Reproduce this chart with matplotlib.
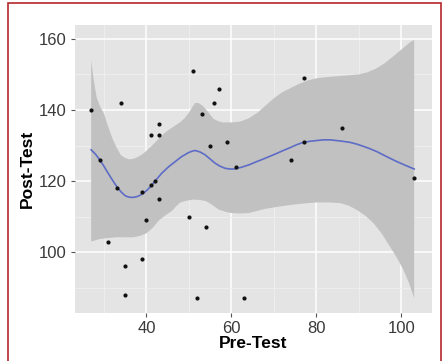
import numpy as np
import matplotlib
matplotlib.use("Agg")
from matplotlib import pyplot as plt
from matplotlib.patches import Rectangle

# scatter data
pre = [27, 29, 31, 33, 34, 35, 35, 39, 39, 40, 41, 41, 42, 43, 43, 43,
       50, 51, 52, 53, 54, 55, 56, 57, 59, 61, 63, 74, 77, 77, 86, 103]
post = [140, 126, 103, 118, 142, 96, 88, 98, 117, 109, 133, 119, 120, 136, 133, 115,
        110, 151, 87, 139, 107, 130, 142, 146, 131, 124, 87, 126, 149, 131, 135, 121]

# smoother line and band edges
fit_x = [27, 28, 29, 30, 31, 32, 33, 34, 35, 35.8, 36.8, 37.7, 38.5, 39.3, 40.3, 41.3, 42.4,
         43.6, 45.2, 46.8, 48.3, 49.9, 50.7, 51.5, 52.6, 53.8, 55, 56.2, 57.3, 58.5, 59.6,
         60.7, 62.4, 64.2, 65.8, 67.5, 69.1, 70.7, 72.2, 73.8, 75.3, 76.9, 78.5, 80, 81.6,
         83.2, 85.5, 87.9, 89.5, 91, 92.6, 94.2, 96.5, 98.9, 101, 103]
fit_y = [128.8, 127.6, 126.0, 124.2, 122.2, 120.3, 118.5, 117.0, 115.9, 115.5, 115.4, 115.6,
         116.0, 116.6, 117.6, 118.9, 120.5, 122.2, 124.0, 125.5, 126.9, 128.0, 128.4, 128.6,
         128.2, 127.4, 126.2, 125.0, 124.2, 123.6, 123.4, 123.4, 123.9, 124.6, 125.4, 126.2,
         127.0, 127.8, 128.6, 129.4, 130.2, 130.9, 131.2, 131.4, 131.6, 131.6, 131.3, 130.9,
         130.4, 129.8, 129.1, 128.3, 126.9, 125.5, 124.4, 123.4]

upper_x = [27, 27.6, 28.3, 29.1, 30, 31, 32, 33, 34, 35, 36, 37, 38, 39, 40, 41, 42, 43, 44,
           45, 46, 47, 48, 49, 50, 50.8, 51.5, 52.4, 53.4, 54.6, 55.8, 57, 58, 60, 62, 64, 66,
           68, 70, 72, 74, 76, 78, 80, 82, 84, 86, 88, 90, 92, 94, 96, 98, 99.5, 101, 102, 103]
upper_y = [154.1, 148.5, 143.5, 141.0, 139, 135.3, 132, 129.4, 127.3, 126.5, 126.1, 126.3,
           126.8, 127.5, 128.5, 129.6, 130.8, 132.0, 133.2, 134.2, 135, 135.8, 136.6, 137.7,
           139.2, 140.8, 142, 141.9, 141, 139.3, 137.5, 136.8, 136.5, 136.5, 136.7, 137.6,
           139.1, 141.2, 143.3, 145.0, 146.2, 147.4, 148.3, 148.9, 149.2, 149.4, 149.6, 149.8,
           150.0, 150.6, 151.6, 153.1, 155.0, 156.5, 158.0, 159.0, 159.7]

lower_x = [27, 29, 31, 33, 35, 37, 38.5, 40, 41.5, 43, 44.5, 46, 47, 48, 49.5, 51, 52.5, 54,
           55.5, 57, 58.5, 60, 62, 64, 66, 68, 71, 74, 77, 80, 83, 85.6, 87.6, 89.5, 91.5,
           93.4, 95.4, 97.3, 99, 100.5, 101.8, 103]
lower_y = [103.0, 103.7, 104.0, 104.2, 104.2, 104.2, 104.6, 105.3, 106.9, 109.0, 110.4, 111.6,
           112.9, 114.0, 114.5, 114.8, 114.7, 114.4, 113.3, 112.0, 111.4, 111.0, 110.9, 111.0,
           111.6, 112.2, 112.8, 113.3, 113.7, 114.0, 114.0, 113.8, 113.1, 111.9, 110.3, 108.2,
           105.2, 101.6, 98.3, 95.0, 91.3, 87.1]

x_ticks = [40, 60, 80, 100]
y_ticks = [100, 120, 140, 160]

plt.rcParams['font.family'] = ['Liberation Sans', 'DejaVu Sans']

fig = plt.figure(figsize=(4.43, 3.61), dpi=100)
ax = fig.add_axes([75/443, 1-313/361, 357/443, 288/361])
ax.set_facecolor('#E4E4E4')

ax.set_xlim(23.2, 107.2)
ax.set_ylim(82.9, 163.9)

# grid like ggplot
ax.set_xticks(x_ticks)
ax.set_yticks(y_ticks)
ax.set_xticks([30, 50, 70, 90], minor=True)
ax.set_yticks([90, 110, 130, 150], minor=True)
ax.grid(which='major', color='white', linewidth=1.1)
ax.grid(which='minor', color='#EFEFEF', linewidth=0.6)
ax.set_axisbelow(True)
for s in ax.spines.values():
    s.set_visible(False)

ax.tick_params(which='major', length=3, width=0.8, color='#555555',
               labelsize=12, labelcolor='#3A3A3A', pad=3)
ax.tick_params(which='minor', length=0)

# confidence band
ax.fill(np.concatenate([upper_x, lower_x[::-1]]),
        np.concatenate([upper_y, lower_y[::-1]]),
        color='#C2C1C1', linewidth=0, zorder=1)
ax.plot(fit_x, fit_y, color='#5D6CC6', linewidth=1.2, zorder=2)
ax.scatter(pre, post, s=9, color='#111111', zorder=3, linewidths=0)

ax.set_xlabel('Pre-Test', fontsize=12.5, fontweight='bold', labelpad=0)
ax.set_ylabel('Post-Test', fontsize=12.5, fontweight='bold', labelpad=3)

# red frame round the figure
fig.add_artist(Rectangle((8/443, -0.05), 433/443, 1.05 - 3/361, transform=fig.transFigure,
                         fill=False, edgecolor='#B5262A', linewidth=1.2))

fig.savefig('out.png', dpi=100)
